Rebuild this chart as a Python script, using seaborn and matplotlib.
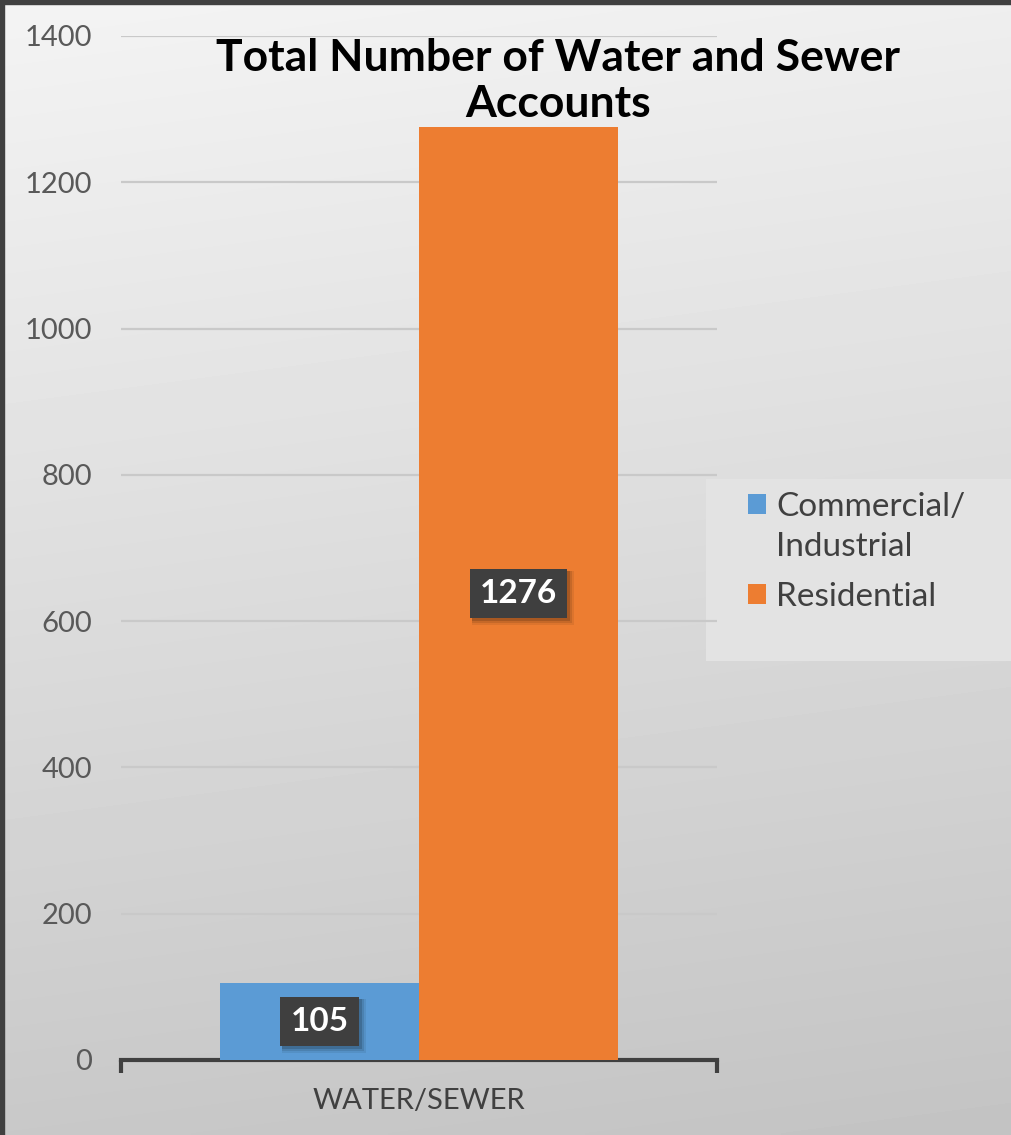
import numpy as np
import pandas as pd
import matplotlib
matplotlib.use("Agg")
import matplotlib.pyplot as plt
from matplotlib.patches import Rectangle
import seaborn as sns

# Chart data
categories = ["WATER/SEWER"]
account_types = ["Commercial/\nIndustrial", "Residential"]
account_counts = [105, 1276]
type_colors = ["#5b9bd5", "#ed7d31"]
y_ticks = [0, 200, 400, 600, 800, 1000, 1200, 1400]

df = pd.DataFrame({
    "category": categories * len(account_types),
    "type": account_types,
    "count": account_counts,
})

sns.set_theme(style="white")
plt.rcParams["font.family"] = ["Lato", "DejaVu Sans"]

W, H = 1012, 1135
fig = plt.figure(figsize=(W / 100, H / 100), dpi=100)

# Soft vertical gradient background
bg = fig.add_axes([0, 0, 1, 1], zorder=-10)
yy = np.linspace(0, 1, 300)[:, None]
xx = np.linspace(0, 1, 200)[None, :]
grad = 0.955 - 0.17 * yy - 0.02 * xx
bg.imshow(grad, cmap="gray", vmin=0, vmax=1, aspect="auto",
          extent=[0, 1, 1, 0], interpolation="bilinear")
bg.set_xlim(0, 1)
bg.set_ylim(1, 0)
bg.axis("off")
# Dark frame edges on the left and top
bg.add_patch(Rectangle((0, 0), 4 / W, 1, color="#404040", transform=bg.transAxes))
bg.add_patch(Rectangle((0, 1 - 4 / H), 1, 4 / H, color="#404040", transform=bg.transAxes))
# Legend panel
bg.add_patch(Rectangle((706 / W, 479 / H), (W - 706) / W, (661 - 479) / H,
                       facecolor="#e3e3e3", edgecolor="none"))

ax = fig.add_axes([121 / W, 1 - 1060 / H, (717 - 121) / W, (1060 - 36) / H])
ax.set_facecolor("none")

sns.barplot(data=df, x="category", y="count", hue="type",
            palette=type_colors, saturation=1, width=0.668, linewidth=0,
            ax=ax, legend=True, zorder=3)

ax.set_xlim(-0.5, 0.5)
ax.set_ylim(0, 1400)
ax.set_yticks(y_ticks)
ax.set_yticklabels([str(t) for t in y_ticks], fontsize=21, color="#595959")
ax.yaxis.grid(True, color="#c9c9c9", linewidth=1.6, zorder=0)
ax.set_axisbelow(True)
ax.set_xlabel("")
ax.set_ylabel("")
for side in ["left", "right", "top"]:
    ax.spines[side].set_visible(False)
ax.spines["bottom"].set_color("#404040")
ax.spines["bottom"].set_linewidth(3)
ax.tick_params(axis="y", length=0, pad=21)
ax.tick_params(axis="x", which="major", length=0, pad=20, labelsize=21,
               labelcolor="#404040")
ax.set_xticks([-0.5, 0.5], minor=True)
ax.tick_params(axis="x", which="minor", bottom=True, length=9, width=3,
               color="#404040", direction="out")

# Value labels in dark boxes
label_texts = []
for patch, val in zip(ax.patches, account_counts):
    cx = patch.get_x() + patch.get_width() / 2
    cy = val / 2
    t = ax.text(cx, cy, str(val), ha="center", va="center", fontsize=24,
                fontweight="bold", color="white", zorder=6,
                bbox=dict(boxstyle="square,pad=0.3", facecolor="#3f3f3f",
                          edgecolor="none"))
    label_texts.append(t)

# Soft drop shadows under the label boxes
fig.canvas.draw()
inv = ax.transData.inverted()
for t in label_texts:
    ext = t.get_bbox_patch().get_window_extent()
    for k, a in [(7, 0.07), (5, 0.10), (3, 0.15)]:
        (x0, y0) = inv.transform((ext.x0 + 2, ext.y0 - k))
        (x1, y1) = inv.transform((ext.x1 + k, ext.y1 - 2))
        ax.add_patch(Rectangle((x0, y0), x1 - x0, y1 - y0, facecolor="black",
                               alpha=a, edgecolor="none", zorder=4))

handles, labels = ax.get_legend_handles_labels()
ax.legend_.remove()
leg_fs = 24
leg_ls = 1.4
leg = fig.legend(handles, labels, loc="upper left",
                 bbox_to_anchor=(748 / W, 1 - 492 / H), frameon=False,
                 fontsize=leg_fs, labelcolor="#404040", handlelength=0.55,
                 handleheight=0.55, handletextpad=0.3, labelspacing=0.6,
                 borderpad=0.0, borderaxespad=0.0)
for txt in leg.get_texts():
    txt.set_linespacing(leg_ls)
# Align the first swatch with the first line of its two-line label
h0 = leg.legend_handles[0]
h0.set_y(h0.get_y() + leg_fs * leg_ls / 2)

fig.text(558 / W, 1 - 81 / H, "Total Number of Water and Sewer\nAccounts",
         ha="center", va="center", fontsize=32, fontweight="bold",
         color="black", linespacing=1.2)

fig.savefig("out.png", dpi=100)
